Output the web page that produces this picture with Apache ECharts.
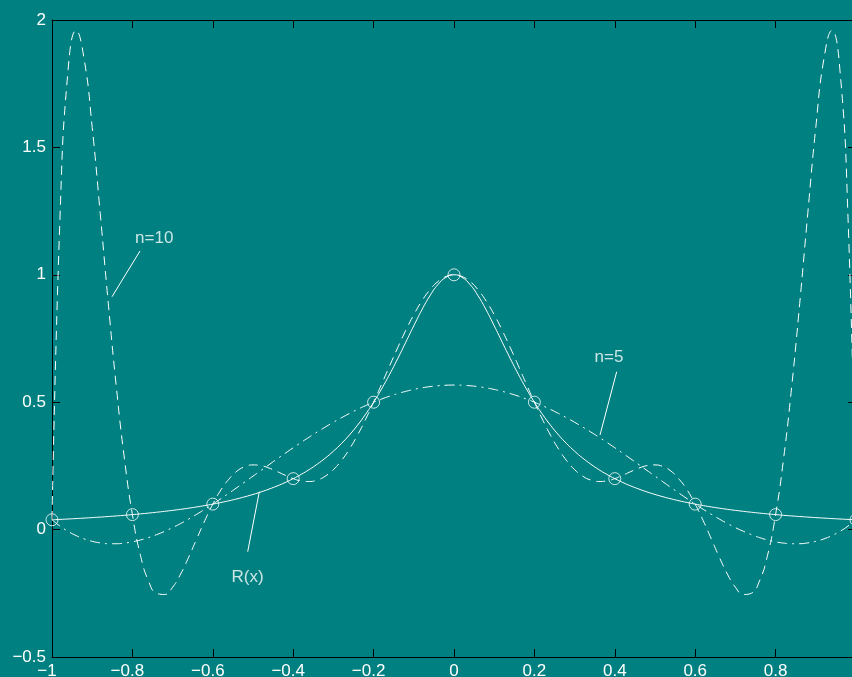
<!DOCTYPE html>
<html><head><meta charset="utf-8">
<script src="https://cdn.jsdelivr.net/npm/echarts@6/dist/echarts.min.js"></script>
<style>html,body{margin:0;padding:0;background:#008080;}#c{width:852px;height:677px;}</style>
</head><body><div id="c"></div>
<script>
// x sample positions
const xs = [-1,-0.98,-0.96,-0.94,-0.92,-0.9,-0.88,-0.86,-0.84,-0.82,-0.8,-0.78,-0.76,-0.74,-0.72,-0.7,-0.68,-0.66,-0.64,-0.62,-0.6,-0.58,-0.56,-0.54,-0.52,-0.5,-0.48,-0.46,-0.44,-0.42,-0.4,-0.38,-0.36,-0.34,-0.32,-0.3,-0.28,-0.26,-0.24,-0.22,-0.2,-0.18,-0.16,-0.14,-0.12,-0.1,-0.08,-0.06,-0.04,-0.02,0,0.02,0.04,0.06,0.08,0.1,0.12,0.14,0.16,0.18,0.2,0.22,0.24,0.26,0.28,0.3,0.32,0.34,0.36,0.38,0.4,0.42,0.44,0.46,0.48,0.5,0.52,0.54,0.56,0.58,0.6,0.62,0.64,0.66,0.68,0.7,0.72,0.74,0.76,0.78,0.8,0.82,0.84,0.86,0.88,0.9,0.92,0.94,0.96,0.98,1];
// R(x) solid curve
const runge = [0.0385,0.04,0.0416,0.0433,0.0451,0.0471,0.0491,0.0513,0.0536,0.0561,0.0588,0.0617,0.0648,0.0681,0.0716,0.0755,0.0796,0.0841,0.089,0.0943,0.1,0.1063,0.1131,0.1206,0.1289,0.1379,0.1479,0.159,0.1712,0.1848,0.2,0.2169,0.2358,0.2571,0.2809,0.3077,0.3378,0.3717,0.4098,0.4525,0.5,0.5525,0.6098,0.6711,0.7353,0.8,0.8621,0.9174,0.9615,0.9901,1,0.9901,0.9615,0.9174,0.8621,0.8,0.7353,0.6711,0.6098,0.5525,0.5,0.4525,0.4098,0.3717,0.3378,0.3077,0.2809,0.2571,0.2358,0.2169,0.2,0.1848,0.1712,0.159,0.1479,0.1379,0.1289,0.1206,0.1131,0.1063,0.1,0.0943,0.089,0.0841,0.0796,0.0755,0.0716,0.0681,0.0648,0.0617,0.0588,0.0561,0.0536,0.0513,0.0491,0.0471,0.0451,0.0433,0.0416,0.04,0.0385];
// n=5 dash-dot curve
const poly5 = [0.0385,0.0137,-0.0069,-0.0236,-0.0366,-0.046,-0.0522,-0.0553,-0.0555,-0.053,-0.0481,-0.0408,-0.0314,-0.02,-0.0069,0.0078,0.024,0.0414,0.06,0.0796,0.1,0.1211,0.1428,0.1648,0.1872,0.2097,0.2323,0.2549,0.2773,0.2994,0.3212,0.3425,0.3632,0.3833,0.4027,0.4213,0.439,0.4558,0.4716,0.4864,0.5,0.5125,0.5238,0.5338,0.5426,0.5501,0.5563,0.5611,0.5645,0.5666,0.5673,0.5666,0.5645,0.5611,0.5563,0.5501,0.5426,0.5338,0.5238,0.5125,0.5,0.4864,0.4716,0.4558,0.439,0.4213,0.4027,0.3833,0.3632,0.3425,0.3212,0.2994,0.2773,0.2549,0.2323,0.2097,0.1872,0.1648,0.1428,0.1211,0.1,0.0796,0.06,0.0414,0.024,0.0078,-0.0069,-0.02,-0.0314,-0.0408,-0.0481,-0.053,-0.0555,-0.0553,-0.0522,-0.046,-0.0366,-0.0236,-0.0069,0.0137,0.0385];
// n=10 dashed curve
const poly10 = [0.0385,1.2303,1.8044,1.9589,1.8459,1.5787,1.2402,0.8881,0.5605,0.2802,0.0588,-0.1007,-0.2013,-0.2496,-0.2546,-0.2262,-0.1744,-0.1083,-0.0363,0.0348,0.1,0.1554,0.1978,0.2292,0.2472,0.2538,0.251,0.2415,0.2279,0.2133,0.2,0.1912,0.1888,0.1946,0.2099,0.2354,0.271,0.3165,0.3708,0.4326,0.5,0.571,0.6432,0.7142,0.7818,0.8434,0.8971,0.9409,0.9734,0.9933,1,0.9933,0.9734,0.9409,0.8971,0.8434,0.7818,0.7142,0.6432,0.571,0.5,0.4326,0.3708,0.3165,0.271,0.2354,0.2099,0.1946,0.1888,0.1912,0.2,0.2133,0.2279,0.2415,0.251,0.2538,0.2472,0.2292,0.1978,0.1554,0.1,0.0348,-0.0363,-0.1083,-0.1744,-0.2262,-0.2546,-0.2496,-0.2013,-0.1007,0.0588,0.2802,0.5605,0.8881,1.2402,1.5787,1.8459,1.9589,1.8044,1.2303,0.0385];
// interpolation nodes (circles)
const nodeX = [-1,-0.8,-0.6,-0.4,-0.2,0,0.2,0.4,0.6,0.8,1];
const nodeY = [0.0385,0.0588,0.1,0.2,0.5,1,0.5,0.2,0.1,0.0588,0.0385];
// annotations
const noteText = ['n=10','n=5','R(x)'];
const noteX = [-0.7458,0.3856,-0.5137];
const noteY = [1.1444,0.6754,-0.186];
const leaderX1 = [-0.7811,0.4047,-0.4843];
const leaderY1 = [1.0934,0.6197,0.1487];
const leaderX2 = [-0.8507,0.3632,-0.5132];
const leaderY2 = [0.914,0.3713,-0.0867];

const FONT = "'Liberation Sans', Arial, Helvetica, sans-serif";
const MINUS = '\u2212';
function fmtX(v){ const s = String(+Math.abs(v).toFixed(1)); return v < -1e-9 ? MINUS + s + '{p| }' : s; }
function fmtY(v){ const s = String(+Math.abs(v).toFixed(1)); return v < -1e-9 ? MINUS + s : s; }
const zip = (a,b) => a.map((v,i)=>[v,b[i]]);

const chart = echarts.init(document.getElementById('c'), null, {renderer:'canvas'});
const axisLine = {show:true, onZero:false, lineStyle:{color:'#000', width:1}};
const axisTick = {show:true, inside:true, length:8, lineStyle:{color:'#000', width:1}};
const series = [
  {type:'line', data: zip(xs, poly10), showSymbol:false, smooth:true, lineStyle:{color:'#fff', width:1, type:[9,6]}, z:2},
  {type:'line', data: zip(xs, poly5), showSymbol:false, smooth:true, lineStyle:{color:'#fff', width:1, type:[10,5,2,5]}, z:2},
  {type:'line', data: zip(xs, runge), showSymbol:false, smooth:true, lineStyle:{color:'#fff', width:1}, z:3},
  {type:'scatter', data: zip(nodeX, nodeY), symbol:'circle', symbolSize:12, itemStyle:{color:'rgba(0,0,0,0)', borderColor:'#fff', borderWidth:1}, z:4},
];
for (let i=0;i<leaderX1.length;i++){
  series.push({type:'line', data:[[leaderX1[i],leaderY1[i]],[leaderX2[i],leaderY2[i]]], showSymbol:false, lineStyle:{color:'#fff', width:1}, z:3});
}
series.push({type:'scatter', symbolSize:1, itemStyle:{color:'rgba(0,0,0,0)'},
  data: noteText.map((t,i)=>[noteX[i], noteY[i], t]),
  label:{show:true, position:'inside', formatter:p=>p.data[2], color:'#fff', fontSize:17, fontFamily:FONT}, z:5});

chart.setOption({
  animation:false,
  backgroundColor:'#008080',
  grid:{left:52, top:20, width:804, height:637, containLabel:false, outerBoundsMode:'none'},
  xAxis:[
    {type:'value', position:'bottom', min:-1, max:1, interval:0.2, axisLine, axisTick, splitLine:{show:false},
     axisLabel:{color:'#fff', fontSize:17, fontFamily:FONT, margin:6, formatter:fmtX, rich:{p:{width:10, fontSize:17}}}},
    {type:'value', position:'top', min:-1, max:1, interval:0.2, axisLine, axisTick, splitLine:{show:false}, axisLabel:{show:false}}
  ],
  yAxis:[
    {type:'value', position:'left', min:-0.5, max:2, interval:0.5, axisLine, axisTick, splitLine:{show:false},
     axisLabel:{color:'#fff', fontSize:17, fontFamily:FONT, margin:6, formatter:fmtY}},
    {type:'value', position:'right', min:-0.5, max:2, interval:0.5, axisLine, axisTick, splitLine:{show:false}, axisLabel:{show:false}}
  ],
  series
});
</script></body></html>
